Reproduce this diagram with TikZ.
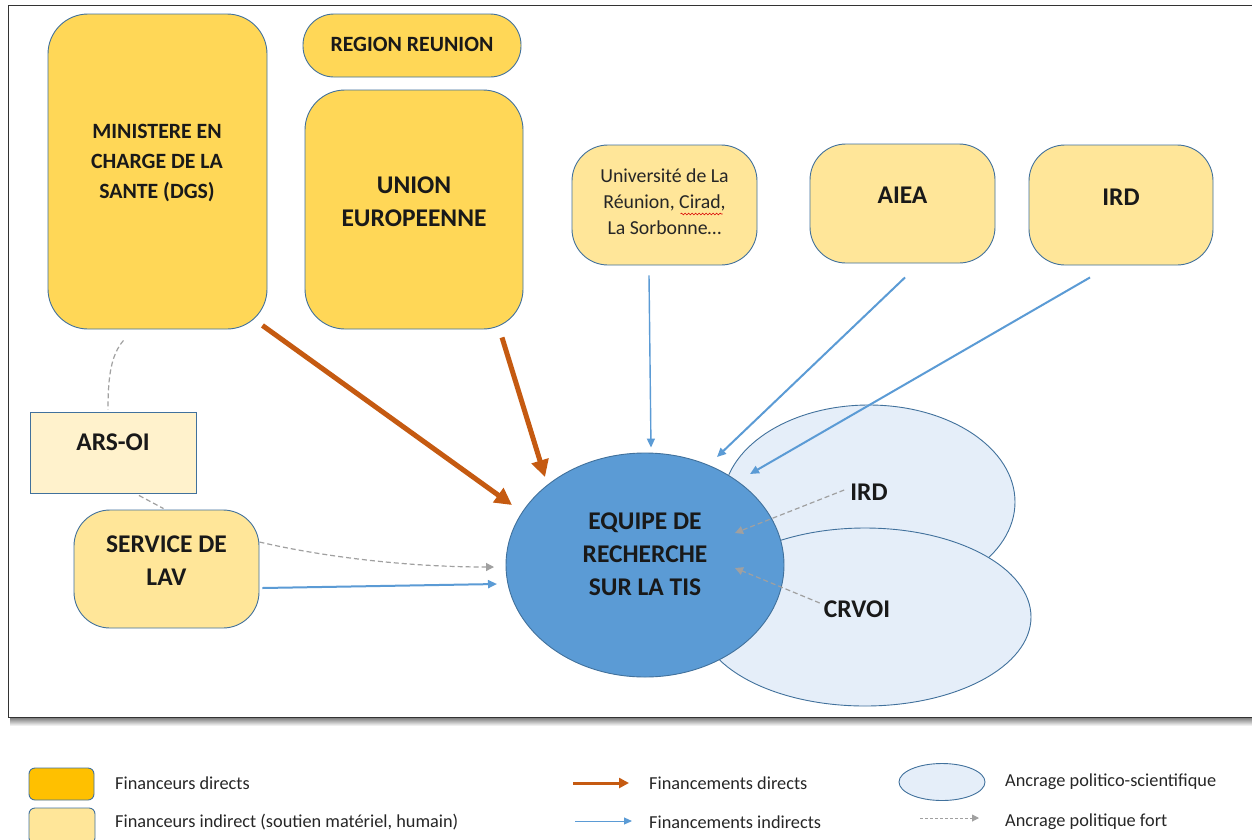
\documentclass[tikz,border=0pt]{standalone}
\usepackage{fontspec}
\setmainfont{Carlito}
\usetikzlibrary{arrows.meta,shapes.geometric,calc,decorations.pathmorphing}
\definecolor{gold}{HTML}{FFD757}
\definecolor{goldleg}{HTML}{FFC000}
\definecolor{lightgold}{HTML}{FFE699}
\definecolor{palegold}{HTML}{FFF2CC}
\definecolor{edge}{HTML}{41719C}
\definecolor{teamblue}{HTML}{5B9BD5}
\definecolor{paleblue}{HTML}{E5EEF9}
\definecolor{rust}{HTML}{C55A11}
\definecolor{dashgray}{HTML}{A0A0A0}
\tikzset{
  box/.style={draw=edge, line width=0.9pt, inner sep=0pt},
  bl/.style={font=\fontsize{21.8}{30}\selectfont\bfseries, align=center, text=black!90, inner sep=0pt},
  blbig/.style={font=\fontsize{25.5}{33}\selectfont\bfseries, align=center, text=black!90, inner sep=0pt},
  rl/.style={font=\fontsize{19.8}{26}\selectfont, align=center, text=black!85, inner sep=0pt},
  legtxt/.style={font=\fontsize{18.3}{20}\selectfont, anchor=west, text=black!85, inner sep=0pt},
  dirarrow/.style={draw=rust, line width=5pt, -{Triangle[length=17pt,width=17pt]}},
  indarrow/.style={draw=teamblue, line width=2pt, -{Triangle[length=9pt,width=8pt]}},
  polarrow/.style={draw=dashgray, line width=1.2pt, dash pattern=on 5pt off 3pt, -{Triangle[length=8pt,width=8pt]}},
  polline/.style={draw=dashgray, line width=1.2pt, dash pattern=on 5pt off 3pt},
}
\begin{document}
\begin{tikzpicture}[x=1pt,y=-1pt]
\useasboundingbox (0,0) rectangle (1252,839);
% frame with shadow
\shade[top color=black!55, bottom color=white] (10,717) rectangle (1260,726);
\fill[white] (8,5) rectangle (1260,717);
\draw[black!80, line width=1pt] (1260,5) -- (8,5) -- (8,717) -- (1260,717);

% direct funders
\node[box, fill=gold, rounded corners=40pt, minimum width=219pt, minimum height=315pt] (min) at (157.5,171.5) {};
\node[bl] (minT) at (157,163) {MINISTERE EN\\CHARGE DE LA\\SANTE (DGS)};
\node[box, fill=gold, rounded corners=31pt, minimum width=218pt, minimum height=63pt] (region) at (412,45.5) {};
\node[bl] (regionT) at (412,44) {REGION REUNION};
\node[box, fill=gold, rounded corners=40pt, minimum width=218pt, minimum height=239pt] (union) at (414,209.5) {};
\node[blbig] (unionT) at (414,201.5) {UNION\\EUROPEENNE};

% indirect funders
\node[box, fill=lightgold, rounded corners=36pt, minimum width=185pt, minimum height=120pt] (univ) at (664.5,205) {};
\node[rl] (univT) at (664.5,202) {Université de La\\Réunion, Cirad,\\La Sorbonne…};
\draw[red!85!black, line width=0.6pt, decorate, decoration={snake, amplitude=0.9pt, segment length=3.5pt}] ($(univT.center)+(16,12)$) -- ($(univT.center)+(58,12)$);
\node[box, fill=lightgold, rounded corners=36pt, minimum width=185pt, minimum height=119pt] (aiea) at (902.5,203.5) {};
\node[blbig] (aieaT) at (902.5,195) {AIEA};
\node[box, fill=lightgold, rounded corners=36pt, minimum width=184pt, minimum height=120pt] (ird) at (1121,205) {};
\node[blbig] (irdT) at (1121,197) {IRD};
\node[box, fill=palegold, minimum width=166pt, minimum height=81pt] (ars) at (113,452.5) {};
\node[blbig] (arsT) at (113,442) {ARS-OI};
\node[box, fill=lightgold, rounded corners=36pt, minimum width=185pt, minimum height=118pt] (lav) at (166.5,569) {};
\node[blbig] (lavT) at (166.5,561) {SERVICE DE\\LAV};

% anchoring ellipses and team
\node[ellipse, draw=edge, line width=0.9pt, fill=paleblue, minimum width=292pt, minimum height=194pt, inner sep=0pt] (upper) at (869,502) {};
\node[ellipse, draw=edge, line width=0.9pt, fill=paleblue, minimum width=332pt, minimum height=178pt, inner sep=0pt] (lower) at (865,617) {};
\node[ellipse, draw=edge, line width=0.9pt, fill=teamblue, minimum width=278pt, minimum height=224pt, inner sep=0pt] (equipe) at (645,565) {};
\node[blbig] (equipeT) at (645,554.5) {EQUIPE DE\\RECHERCHE\\SUR LA TIS};
\node[blbig] (irdL) at (869,492) {IRD};
\node[blbig] (crvoiL) at (857,609) {CRVOI};

% direct funding
\draw[dirarrow] ($(min.south east)+(-5,-4)$) -- ($(equipe.center)+(-133,-60)$);
\draw[dirarrow] ($(union.south)+(88,8)$) -- ($(equipe.center)+(-100,-88)$);

% indirect funding
\draw[indarrow, line width=1.4pt] ($(univ.south)+(-15.5,10)$) -- ($(equipe.north)+(6,-5)$);
\draw[indarrow] ($(aiea.south)+(2.5,14)$) -- ($(equipe.center)+(72,-108)$);
\draw[indarrow] ($(ird.south)+(-31,12)$) -- ($(equipe.center)+(105,-91)$);
\draw[indarrow] ($(lav.east)+(3,19)$) -- ($(equipe.center)+(-148,19)$);

% political anchoring
\draw[polline] ($(min.south)+(-34,11)$) .. controls +(-12,14) and +(0,-35) .. ($(ars.north)+(-5,-2)$);
\draw[polline] ($(ars.south)+(26,2)$) -- ($(lav.north)+(-3,-1)$);
\draw[polarrow] ($(lav.east)+(0,-27)$) .. controls +(60,14) and +(-90,0) .. ($(equipe.center)+(-151,2)$);
\draw[polarrow] ($(irdL.west)+(-6,-2)$) -- ($(equipe.center)+(90,-32)$);
\draw[polarrow] ($(crvoiL.west)+(-4,-6)$) -- ($(equipe.center)+(90,3)$);

% legend
\node[draw=edge, line width=0.9pt, fill=goldleg, rounded corners=6pt, minimum width=65pt, minimum height=32pt, inner sep=0pt] (legD) at (61.5,784) {};
\node[legtxt] (legDT) at (115,783) {Financeurs directs};
\node[draw=edge, line width=0.9pt, fill=lightgold, rounded corners=6pt, minimum width=66pt, minimum height=36pt, inner sep=0pt] (legI) at (62,826) {};
\node[legtxt] (legIT) at (115,822) {Financeurs indirect (soutien matériel, humain)};
\coordinate (la1) at (573,783); \coordinate (lb1) at (629,783);
\draw[draw=rust, line width=3pt, -{Triangle[length=10pt,width=10pt]}] (la1) -- (lb1);
\node[legtxt] (legA1T) at (649,783) {Financements directs};
\coordinate (la2) at (575,821); \coordinate (lb2) at (632,821);
\draw[draw=teamblue, line width=1pt, -{Triangle[length=8pt,width=7pt]}] (la2) -- (lb2);
\node[legtxt] (legA2T) at (649,822) {Financements indirects};
\node[ellipse, draw=edge, line width=0.9pt, fill=paleblue, minimum width=86pt, minimum height=37pt, inner sep=0pt] (legE) at (942,782) {};
\node[legtxt] (legET) at (1005,782) {Ancrage politico-scientifique};
\coordinate (la3) at (920,818); \coordinate (lb3) at (979,818);
\draw[draw=dashgray, line width=1pt, dash pattern=on 3pt off 2pt, -{Triangle[length=7pt,width=7pt]}] (la3) -- (lb3);
\node[legtxt] (legPT) at (1005,822) {Ancrage politique fort};
\end{tikzpicture}
\end{document}
